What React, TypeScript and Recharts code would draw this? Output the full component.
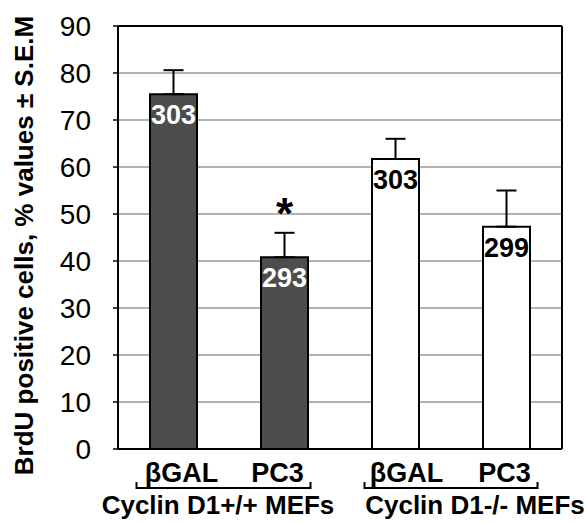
import React from 'react';
import {
  BarChart,
  Bar,
  XAxis,
  YAxis,
  CartesianGrid,
  ErrorBar,
  LabelList,
  Cell,
  ReferenceLine,
} from 'recharts';

const categories = ['βGAL', 'PC3', 'βGAL', 'PC3'];
const groups = ['Cyclin D1+/+ MEFs', 'Cyclin D1-/- MEFs'];
const values = [75.5, 40.8, 61.7, 47.3];
const errors = [5.1, 5.2, 4.3, 7.7];
const counts = [303, 293, 303, 299];
const marks = ['', '*', '', ''];
const yTicks = [0, 10, 20, 30, 40, 50, 60, 70, 80, 90];
const boundaryTicks = [0, 1, 2, 3, 4];
const yTitle = 'BrdU positive cells, % values ± S.E.M';

const data = categories.map((c, i) => ({
  key: `${groups[Math.floor(i / 2)]} ${c}`,
  label: c,
  value: values[i],
  err: [0, errors[i]],
  n: counts[i],
  mark: marks[i],
  dark: i < 2,
}));

const FONT = '"Liberation Sans", Arial, Helvetica, sans-serif';
const DARK = '#4d4d4d';

const labelDx = [8, -7, 11, -2];
const bracketSpan = [
  [-37, 137],
  [-31, 142],
];
const groupDx = [44.5, 79.5];

const CatTick = (props: any) => {
  const { x, y, index } = props;
  const g = Math.floor(index / 2);
  return (
    <g>
      <text
        x={x + labelDx[index]}
        y={y + 32}
        textAnchor="middle"
        fontSize={27}
        fontWeight="bold"
        fill="#000"
        fontFamily={FONT}
      >
        {categories[index]}
      </text>
      {index % 2 === 0 && (
        <g>
          <path
            d={`M${x + bracketSpan[g][0]},${y + 32} L${x + bracketSpan[g][0]},${y + 38} L${x + bracketSpan[g][1]},${y + 38} L${x + bracketSpan[g][1]},${y + 32}`}
            fill="none"
            stroke="#000"
            strokeWidth={2}
          />
          <text
            x={x + groupDx[g]}
            y={y + 64}
            textAnchor="middle"
            fontSize={26}
            fontWeight="bold"
            fill="#000"
            fontFamily={FONT}
          >
            {groups[g]}
          </text>
        </g>
      )}
    </g>
  );
};

const CountLabel = (props: any) => {
  const { x, y, width, index, value } = props;
  const dark = data[index].dark;
  return (
    <text
      x={x + width / 2}
      y={y + 30}
      textAnchor="middle"
      fontSize={27}
      fontWeight="bold"
      fill={dark ? '#fff' : '#000'}
      fontFamily={FONT}
    >
      {value}
    </text>
  );
};

const MarkLabel = (props: any) => {
  const { x, y, width, height, index, value } = props;
  if (!value) return null;
  const d = data[index];
  const pxPerUnit = height / d.value;
  const errTop = y - d.err[1] * pxPerUnit;
  return (
    <text
      x={x + width / 2}
      y={errTop - 4}
      textAnchor="middle"
      fontSize={44}
      fontWeight="bold"
      fill="#000"
      fontFamily={FONT}
    >
      {value}
    </text>
  );
};

const YTitle = (props: any) => {
  const vb = props.viewBox || { x: 0, y: 26, width: 118, height: 423 };
  const cx = vb.x + 33;
  const cy = vb.y + vb.height / 2 + 8;
  return (
    <text
      transform={`translate(${cx},${cy}) rotate(-90)`}
      textAnchor="middle"
      fontSize={26}
      fontWeight="bold"
      fill="#000"
      fontFamily={FONT}
    >
      {yTitle}
    </text>
  );
};

export default function App() {
  return (
    <div style={{ position: 'absolute', left: 0, top: 0, fontFamily: FONT, background: '#fff' }}>
      <BarChart
        width={586}
        height={523}
        data={data}
        margin={{ top: 26, right: 0, bottom: 0, left: 0 }}
      >
        <CartesianGrid
          horizontal
          vertical={false}
          stroke="#999"
          strokeWidth={1.5}
          xAxisId="cat"
          yAxisId="left"
        />
        <XAxis
          xAxisId="bounds"
          type="number"
          domain={[0, 4]}
          ticks={boundaryTicks}
          allowDataOverflow
          tick={false}
          tickSize={6}
          height={1}
          axisLine={{ stroke: '#000', strokeWidth: 2 }}
          tickLine={{ stroke: '#000', strokeWidth: 1.5 }}
        />
        <XAxis
          xAxisId="cat"
          dataKey="key"
          type="category"
          interval={0}
          height={73}
          tickSize={0}
          tickMargin={0}
          axisLine={false}
          tickLine={false}
          tick={<CatTick />}
        />
        <YAxis
          yAxisId="left"
          width={118}
          domain={[0, 90]}
          ticks={yTicks}
          interval={0}
          tickSize={5}
          tickMargin={22}
          axisLine={{ stroke: '#000', strokeWidth: 2 }}
          tickLine={{ stroke: '#000', strokeWidth: 1.5 }}
          tick={{ fontSize: 28, fill: '#000', fontFamily: FONT }}
          label={<YTitle />}
        />
        <YAxis
          yAxisId="right"
          orientation="right"
          width={24}
          domain={[0, 90]}
          tick={false}
          tickLine={false}
          axisLine={{ stroke: '#000', strokeWidth: 2 }}
        />
        <ReferenceLine yAxisId="left" xAxisId="cat" y={90} stroke="#000" strokeWidth={2} />
        <Bar
          xAxisId="cat"
          yAxisId="left"
          dataKey="value"
          barSize={47}
          stroke="#000"
          strokeWidth={2}
          isAnimationActive={false}
        >
          {data.map((d, i) => (
            <Cell key={i} fill={d.dark ? DARK : '#fff'} />
          ))}
          <ErrorBar dataKey="err" width={10} stroke="#000" strokeWidth={2} direction="y" />
          <LabelList dataKey="n" content={<CountLabel />} />
          <LabelList dataKey="mark" content={<MarkLabel />} />
        </Bar>
      </BarChart>
    </div>
  );
}
